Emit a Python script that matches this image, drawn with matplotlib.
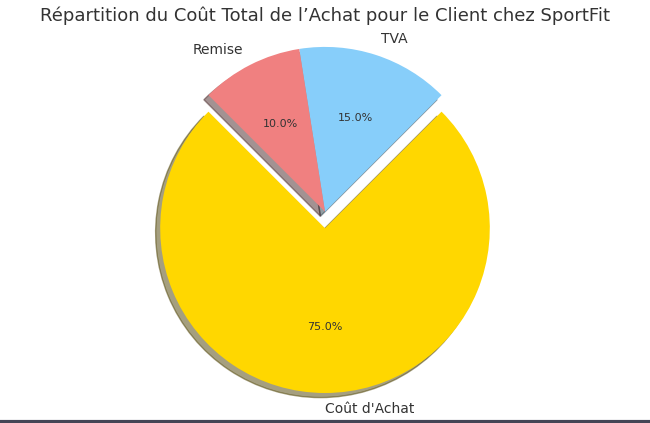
import matplotlib
matplotlib.use("Agg")
import matplotlib.pyplot as plt
from matplotlib.lines import Line2D

labels = ["Coût d'Achat", "TVA", "Remise"]
values = [75, 15, 10]
colors = ["gold", "lightskyblue", "lightcoral"]
explode = [0.1, 0, 0]

plt.rcParams['text.color'] = '#333333'
fig, ax = plt.subplots(figsize=(6.5, 4.23), dpi=100)
ax.pie(values, labels=labels, colors=colors, explode=explode, autopct='%1.1f%%',
       startangle=135, shadow=True, textprops={'fontsize': 10, 'color': '#333333'})
for t in ax.texts:
    if '%' in t.get_text():
        t.set_fontsize(8)
ax.axis('equal')
ax.set_title("Répartition du Coût Total de l’Achat pour le Client chez SportFit", fontsize=13, color='#333333')
fig.subplots_adjust(left=0.05, right=0.95, top=0.93, bottom=0.03)
fig.add_artist(Line2D([0, 1], [0.003, 0.003], transform=fig.transFigure, color='#444455', lw=3))
fig.savefig("out.png", dpi=100)
